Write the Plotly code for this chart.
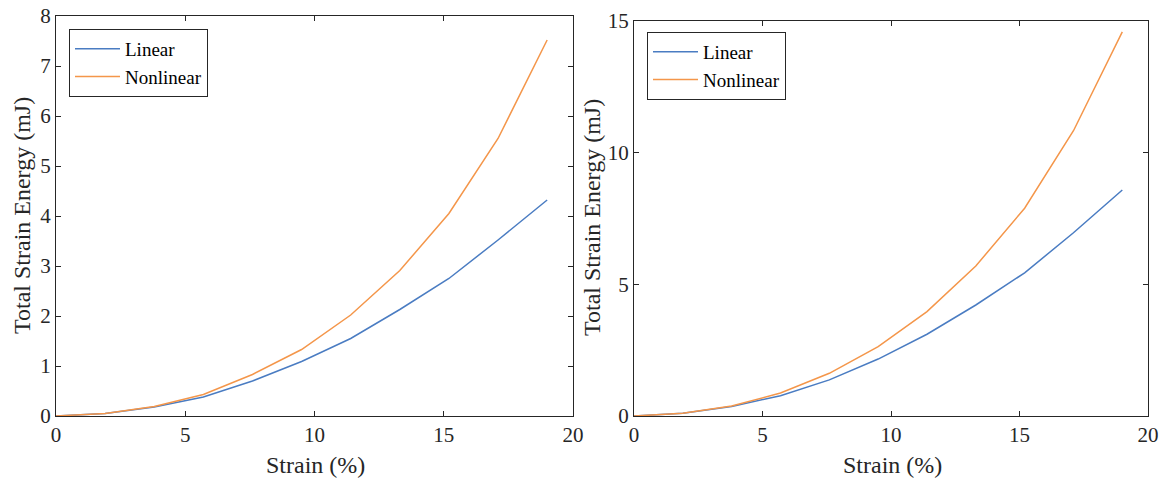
import plotly.graph_objects as go

# Data
strain = [0, 1.9, 3.8, 5.7, 7.6, 9.5, 11.4, 13.3, 15.2, 17.1, 19.0]
left_linear = [0, 0.05, 0.18, 0.38, 0.70, 1.09, 1.55, 2.13, 2.75, 3.52, 4.32]
left_nonlinear = [0, 0.05, 0.19, 0.43, 0.83, 1.33, 2.02, 2.91, 4.05, 5.55, 7.52]
right_linear = [0, 0.10, 0.36, 0.77, 1.37, 2.16, 3.10, 4.21, 5.43, 6.95, 8.57]
right_nonlinear = [0, 0.10, 0.38, 0.87, 1.62, 2.63, 3.96, 5.69, 7.88, 10.82, 14.57]
series_names = ["Linear", "Nonlinear"]
x_ticks = [0, 5, 10, 15, 20]
left_y_ticks = [0, 1, 2, 3, 4, 5, 6, 7, 8]
right_y_ticks = [0, 5, 10, 15]

BLUE = "#4A7CC2"
ORANGE = "#F4964A"
AX = "#262626"
FONT = "Liberation Serif"
W, H = 1162, 481

fig = go.Figure()
fig.add_trace(go.Scatter(x=strain, y=left_linear, mode="lines", name=series_names[0],
                         line=dict(color=BLUE, width=1.5), xaxis="x", yaxis="y", legend="legend"))
fig.add_trace(go.Scatter(x=strain, y=left_nonlinear, mode="lines", name=series_names[1],
                         line=dict(color=ORANGE, width=1.5), xaxis="x", yaxis="y", legend="legend"))
fig.add_trace(go.Scatter(x=strain, y=right_linear, mode="lines", name=series_names[0],
                         line=dict(color=BLUE, width=1.5), xaxis="x2", yaxis="y2", legend="legend2"))
fig.add_trace(go.Scatter(x=strain, y=right_nonlinear, mode="lines", name=series_names[1],
                         line=dict(color=ORANGE, width=1.5), xaxis="x2", yaxis="y2", legend="legend2"))

def px_x(p):
    return p / W

def px_y(p):
    return 1 - p / H

axis_common = dict(showline=True, linecolor=AX, linewidth=1, mirror="ticks", ticks="inside",
                   ticklen=5, tickcolor=AX, tickwidth=1, showgrid=False, zeroline=False,
                   automargin=False, ticklabeloverflow="allow",
                   tickfont=dict(family=FONT, size=21, color=AX))

def ann(text, x, y, angle=0):
    return dict(text=text, x=px_x(x), y=px_y(y), xref="paper", yref="paper",
                xanchor="center", yanchor="middle", showarrow=False, textangle=angle,
                font=dict(family=FONT, size=24, color=AX))

legend_common = dict(xanchor="left", yanchor="top", bgcolor="white", bordercolor=AX,
                     borderwidth=1, font=dict(family=FONT, size=19, color="black"),
                     tracegroupgap=0, itemwidth=45)

fig.update_layout(
    template="none",
    width=W, height=H,
    margin=dict(l=0, r=0, t=0, b=0, pad=0, autoexpand=False),
    paper_bgcolor="white", plot_bgcolor="white",
    font=dict(family=FONT, color=AX),
    hovermode=False,
    xaxis=dict(domain=[px_x(56), px_x(573)], range=[0, 20], tickvals=x_ticks, anchor="y", **axis_common),
    yaxis=dict(domain=[px_y(416), px_y(16)], range=[0, 8], tickvals=left_y_ticks, anchor="x", **axis_common),
    xaxis2=dict(domain=[px_x(634), px_x(1148)], range=[0, 20], tickvals=x_ticks, anchor="y2", **axis_common),
    yaxis2=dict(domain=[px_y(416), px_y(20.5)], range=[0, 15], tickvals=right_y_ticks, anchor="x2", **axis_common),
    legend=dict(x=px_x(69), y=px_y(29), **legend_common),
    legend2=dict(x=px_x(647), y=px_y(32), **legend_common),
    annotations=[
        ann("Strain (%)", 315, 465),
        ann("Strain (%)", 892, 465),
        ann("Total Strain Energy (mJ)", 22, 216, -90),
        ann("Total Strain Energy (mJ)", 592, 218, -90),
    ],
)

fig.write_html("out.html",
               config={"displayModeBar": False},
               post_script="document.body.style.margin='0';document.body.style.overflow='hidden';")
